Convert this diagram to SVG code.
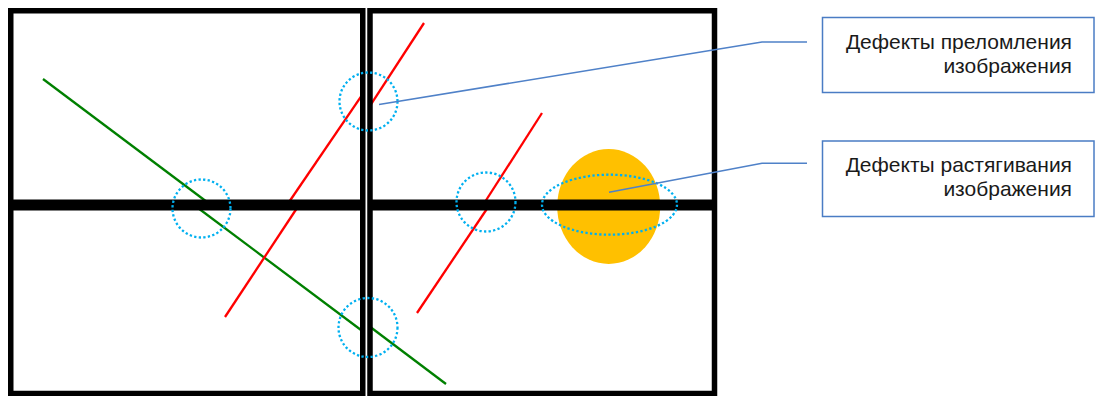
<svg xmlns="http://www.w3.org/2000/svg" width="1099" height="396" viewBox="0 0 1099 396">
<style>
.screen{fill:none;stroke:#000;stroke-width:5.5}
.g{stroke:#008000;stroke-width:2.3;fill:none}
.r{stroke:#ff0000;stroke-width:2.3;fill:none}
.dot{fill:none;stroke:#00b0f0;stroke-width:2.3;stroke-dasharray:2.3 2.3}
.leader{fill:none;stroke:#4f81c8;stroke-width:1.6}
.box{fill:#fff;stroke:#4a7cc4;stroke-width:1.5}
.lbl{font-family:"Liberation Sans",Arial,sans-serif;font-size:21px;fill:#1a1a1a;text-anchor:end}
</style>
<rect width="1099" height="396" fill="#fff"/>
<g id="defect-lines">
<line class="g" x1="43" y1="79" x2="211" y2="205"/>
<line class="g" x1="194" y1="205" x2="363" y2="331.5"/>
<line class="g" x1="369" y1="326" x2="446" y2="384"/>
<line class="r" x1="225" y1="317" x2="299" y2="205"/>
<line class="r" x1="287" y1="205" x2="363" y2="93.7"/>
<line class="r" x1="369" y1="107.3" x2="424" y2="23"/>
<line class="r" x1="542" y1="113" x2="483" y2="205"/>
<line class="r" x1="489.5" y1="205" x2="417" y2="313"/>
</g>
<g id="stretch-spot">
<ellipse cx="608.7" cy="206.5" rx="51.5" ry="57.5" fill="#ffc000"/>
</g>
<g id="screens">
<rect class="screen" x="10.75" y="10.75" width="352" height="191.5"/>
<rect class="screen" x="10.75" y="207.75" width="352" height="185.75"/>
<rect class="screen" x="370" y="10.75" width="344.5" height="191.5"/>
<rect class="screen" x="370" y="207.75" width="344.5" height="185.75"/>
</g>
<g id="markers">
<circle class="dot" cx="368.5" cy="101.5" r="29"/>
<circle class="dot" cx="201.5" cy="208.5" r="29"/>
<circle class="dot" cx="486" cy="202" r="29.5"/>
<circle class="dot" cx="368" cy="327.5" r="29.5"/>
<ellipse class="dot" cx="609.5" cy="204.7" rx="67.5" ry="30"/>
</g>
<g id="connectors">
<polyline class="leader" points="379,104.5 762,42 807,42"/>
<polyline class="leader" points="609,192.3 762,163.3 807,163.3"/>
</g>
<g id="label-refraction">
<rect class="box" x="822.5" y="17.5" width="271.5" height="75"/>
<text class="lbl" x="1072" y="48.5">Дефекты преломления</text>
<text class="lbl" x="1072" y="72.5">изображения</text>
</g>
<g id="label-stretch">
<rect class="box" x="822.5" y="141" width="271.5" height="75.5"/>
<text class="lbl" x="1072" y="171.5">Дефекты растягивания</text>
<text class="lbl" x="1072" y="195.5">изображения</text>
</g>
</svg>
